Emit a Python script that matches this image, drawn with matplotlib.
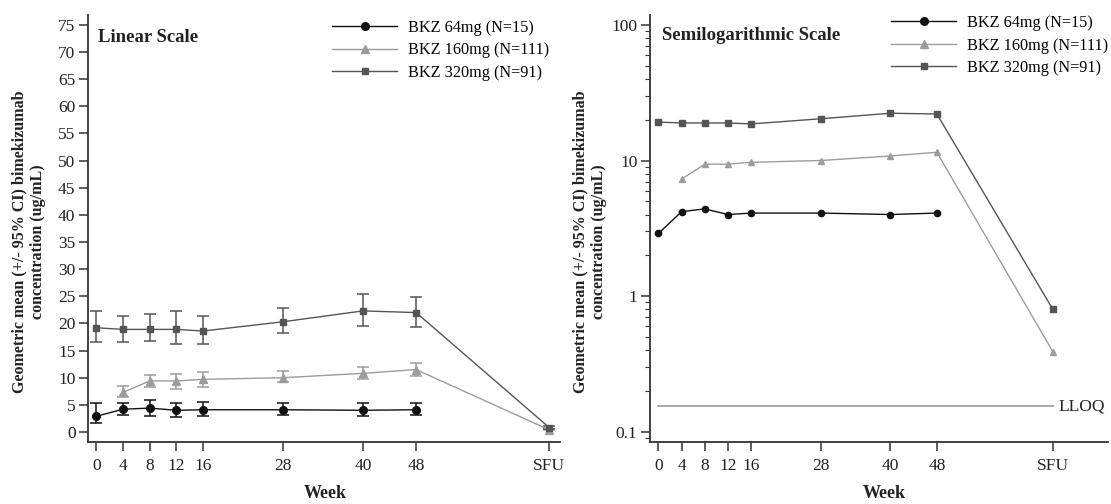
import matplotlib
matplotlib.use("Agg")
import matplotlib.pyplot as plt
import numpy as np

plt.rcParams['font.family'] = ['Liberation Serif', 'DejaVu Serif']

# ---------------- data ----------------
tick_weeks = [0, 4, 8, 12, 16, 28, 40, 48, 68]
tick_labels = ['0', '4', '8', '12', '16', '28', '40', '48', 'SFU']

weeks_64 = [0, 4, 8, 12, 16, 28, 40, 48]
mean_64 = [2.9, 4.2, 4.4, 4.0, 4.1, 4.1, 4.0, 4.1]
lo_64 = [1.6, 3.1, 3.0, 2.8, 3.0, 3.1, 3.0, 3.1]
hi_64 = [5.4, 5.4, 5.9, 5.3, 5.6, 5.4, 5.4, 5.4]

weeks_160 = [4, 8, 12, 16, 28, 40, 48, 68]
mean_160 = [7.3, 9.4, 9.4, 9.7, 10.0, 10.8, 11.5, 0.39]
lo_160 = [6.5, 8.35, 8.0, 8.35, 9.3, 9.7, 10.3, 0.30]
hi_160 = [8.5, 10.5, 10.7, 11.0, 11.3, 12.0, 12.8, 0.50]

weeks_320 = [0, 4, 8, 12, 16, 28, 40, 48, 68]
mean_320 = [19.2, 18.9, 18.9, 18.9, 18.6, 20.3, 22.3, 22.0, 0.80]
lo_320 = [16.5, 16.5, 16.8, 16.2, 16.2, 18.3, 19.5, 19.3, 0.60]
hi_320 = [22.2, 21.4, 21.7, 22.2, 21.4, 22.9, 25.5, 24.9, 1.10]

labels = ['BKZ 64mg (N=15)', 'BKZ 160mg (N=111)', 'BKZ 320mg (N=91)']
lloq = 0.155
y_label = 'Geometric mean (+/- 95% CI) bimekizumab\nconcentration (ug/mL)'

# ---------------- style ----------------
c64, c160, c320 = '#111111', '#9c9c9c', '#555555'
series = [
    (weeks_64, mean_64, lo_64, hi_64, c64, 'o', 5.5),
    (weeks_160, mean_160, lo_160, hi_160, c160, '^', 6),
    (weeks_320, mean_320, lo_320, hi_320, c320, 's', 5),
]
txt = '#222222'

W, H = 1111, 504
fig = plt.figure(figsize=(W / 100, H / 100), dpi=100)

def px_axes(x0, x1, y0, y1):
    return fig.add_axes([x0 / W, 1 - y1 / H, (x1 - x0) / W, (y1 - y0) / H])

axL = px_axes(88, 560, 15, 442)
axR = px_axes(650, 1108, 15, 442)

handles = []
for (wk, m, lo, hi, col, mk, ms), lab in zip(series, labels):
    m = np.array(m); lo = np.array(lo); hi = np.array(hi)
    axL.errorbar(wk, m, yerr=[m - lo, hi - m], fmt='none', ecolor=col,
                 elinewidth=1.1, capsize=4, capthick=1.1, zorder=2)
    h, = axL.plot(wk, m, color=col, marker=mk, markersize=ms, lw=1.0,
                  label=lab, zorder=3)
    handles.append(h)
    axR.plot(wk, m, color=col, marker=mk, markersize=ms - 1, lw=1.0,
             zorder=3)

axR.set_yscale('log')
axR.plot([tick_weeks[0], tick_weeks[-1]], [lloq, lloq], color='#999999', lw=1.2)
axR.text(tick_weeks[-1] + 0.9, lloq, 'LLOQ', va='center', ha='left',
         fontsize=12.5, color=txt)

axL.set_xlim(-1.26, 69.6)
axL.set_ylim(-1.84, 76.8)
axL.set_yticks(np.arange(0, 76, 5))
axR.set_xlim(-1.45, 77.5)
axR.set_ylim(0.0844, 118)
axR.set_yticks([0.1, 1, 10, 100])
axR.set_yticklabels(['0.1', '1', '10', '100'])

for ax in (axL, axR):
    ax.set_xticks(tick_weeks)
    ax.set_xticklabels(tick_labels)
    for s in ('top', 'right'):
        ax.spines[s].set_visible(False)
    for s in ('left', 'bottom'):
        ax.spines[s].set_color('#333333')
        ax.spines[s].set_linewidth(1.3)
    ax.tick_params(axis='both', which='major', direction='out', length=6.5,
                   width=1.1, color='#333333', labelsize=12.5,
                   labelcolor=txt, pad=2.5)
    ax.tick_params(axis='x', pad=5)
axR.tick_params(axis='y', which='minor', length=3.5, width=0.8, color='#333333')

fig.text(98 / W, 1 - 37 / H, 'Linear Scale', fontsize=13.5, fontweight='bold',
         va='center', ha='left', color=txt)
fig.text(662 / W, 1 - 35 / H, 'Semilogarithmic Scale', fontsize=13.5,
         fontweight='bold', va='center', ha='left', color=txt)

for xc, xl in ((29, 325), (590, 884)):
    fig.text(xc / W, 1 - 242 / H, y_label, rotation=90, ha='center',
             va='center', fontsize=11.5, fontweight='bold', color=txt,
             multialignment='center', linespacing=1.2)
    fig.text(xl / W, 2 / H, 'Week', ha='center', va='bottom',
             fontsize=13, fontweight='bold', color=txt)

leg_kw = dict(frameon=False, fontsize=11.7, handlelength=4.0,
              handletextpad=0.65, labelspacing=0.4, borderpad=0,
              borderaxespad=0, loc='upper left')
fig.legend(handles=handles, bbox_to_anchor=(332 / W, 1 - 20 / H), **leg_kw)
fig.legend(handles=handles, bbox_to_anchor=(891 / W, 1 - 15 / H), **leg_kw)

fig.savefig('out.png', dpi=100)
